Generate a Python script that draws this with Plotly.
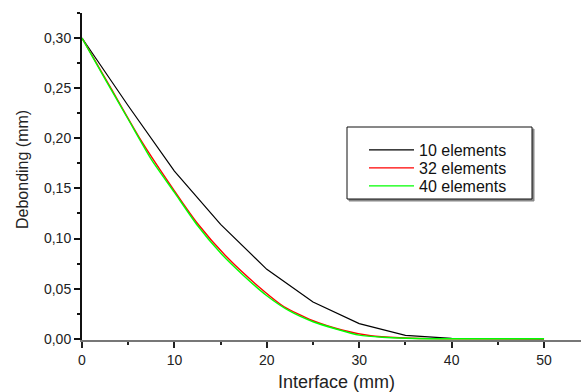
import plotly.graph_objects as go

# 10 elements (nodes every 5 mm)
x10 = [0, 5, 10, 15, 20, 25, 30, 35, 40, 45, 50]
y10 = [0.300, 0.2325, 0.1673, 0.1142, 0.0693, 0.0367, 0.0152, 0.0035, 0.0004, 0.0, 0.0]

# 32 elements (read every other node)
x32 = [0, 3.125, 6.25, 9.375, 12.5, 15.625, 18.75, 21.875, 25, 28.125, 31.25, 34.375, 37.5, 40.625, 43.75, 46.875, 50]
y32 = [0.300, 0.250, 0.200, 0.156, 0.115, 0.082, 0.055, 0.032, 0.018, 0.0088, 0.0030, 0.0010, 0.0002, 0.0, 0.0, 0.0, 0.0]

# 40 elements (read every other node)
x40 = [0, 2.5, 5, 7.5, 10, 12.5, 15, 17.5, 20, 22.5, 25, 27.5, 30, 32.5, 35, 37.5, 40, 42.5, 45, 47.5, 50]
y40 = [0.300, 0.259, 0.219, 0.179, 0.146, 0.113, 0.0855, 0.063, 0.043, 0.0275, 0.017, 0.0098, 0.0037, 0.0015, 0.0005, 0.0001, 0.0, 0.0, 0.0, 0.0, 0.0]

names = ["10 elements", "32 elements", "40 elements"]
colors = ["#000000", "#ff0000", "#00ff00"]

FONT = "Liberation Sans, Arial, sans-serif"

# plot area in pixels
L, R, T, B = 82, 581, 13, 340
PW, PH = R - L, B - T


def px(xp):
    return (xp - L) / PW


def py(yp):
    return (B - yp) / PH


fig = go.Figure()
fig.add_trace(go.Scatter(x=x10, y=y10, mode="lines", name=names[0], legend="legend",
                         line=dict(color=colors[0], width=1.2)))
fig.add_trace(go.Scatter(x=x32, y=y32, mode="lines", name=names[1], legend="legend2",
                         line=dict(color=colors[1], width=1.4, shape="spline", smoothing=0.6)))
fig.add_trace(go.Scatter(x=x40, y=y40, mode="lines", name=names[2], legend="legend3",
                         line=dict(color=colors[2], width=1.4, shape="spline", smoothing=0.6)))

leg_common = dict(xanchor="left", yanchor="middle", bgcolor="rgba(0,0,0,0)", borderwidth=0,
                  font=dict(size=16, family=FONT, color="#111111"), itemwidth=45)

fig.update_layout(
    width=581, height=392,
    margin=dict(l=L, r=581 - R, t=T, b=392 - B),
    paper_bgcolor="white", plot_bgcolor="white",
    separators=",.",
    font=dict(family=FONT, color="#222222"),
    showlegend=True,
    legend=dict(x=px(364), y=py(150), **leg_common),
    legend2=dict(x=px(364), y=py(168), **leg_common),
    legend3=dict(x=px(364), y=py(186), **leg_common),
    xaxis=dict(range=[0, 54], tickmode="linear", tick0=0, dtick=10,
               ticks="outside", ticklen=6, tickwidth=1.5, tickcolor="#222222",
               showline=True, linecolor="#777777", linewidth=2,
               showgrid=False, zeroline=False,
               tickfont=dict(size=14, family=FONT, color="#222222"),
               minor=dict(dtick=5, ticks="outside", ticklen=3, tickwidth=1.5, tickcolor="#222222", showgrid=False),
               layer="below traces"),
    yaxis=dict(range=[-0.0012, 0.325], tickmode="linear", tick0=0, dtick=0.05,
               tickformat=".2f",
               ticks="outside", ticklen=6, tickwidth=1.5, tickcolor="#111111",
               showline=True, linecolor="#111111", linewidth=2,
               showgrid=False, zeroline=False,
               tickfont=dict(size=14, family=FONT, color="#222222"),
               minor=dict(dtick=0.025, ticks="outside", ticklen=3, tickwidth=1.5, tickcolor="#111111", showgrid=False),
               layer="below traces"),
    annotations=[
        dict(text="Interface (mm)", xref="paper", yref="paper", x=px(336), y=py(382),
             xanchor="center", yanchor="middle", showarrow=False,
             font=dict(size=18, family=FONT, color="#222222")),
        dict(text="Debonding (mm)", xref="paper", yref="paper", x=px(22), y=py(170),
             xanchor="center", yanchor="middle", showarrow=False, textangle=-90,
             font=dict(size=16, family=FONT, color="#222222")),
    ],
    shapes=[
        # legend box shadow and frame
        dict(type="rect", xref="paper", yref="paper",
             x0=px(349), x1=px(534), y0=py(201), y1=py(129),
             line=dict(color="#888888", width=1), fillcolor="#888888", layer="below"),
        dict(type="rect", xref="paper", yref="paper",
             x0=px(347), x1=px(532), y0=py(199), y1=py(127),
             line=dict(color="#111111", width=1), fillcolor="white", layer="below"),
    ],
)

fig.write_html("out.html")
